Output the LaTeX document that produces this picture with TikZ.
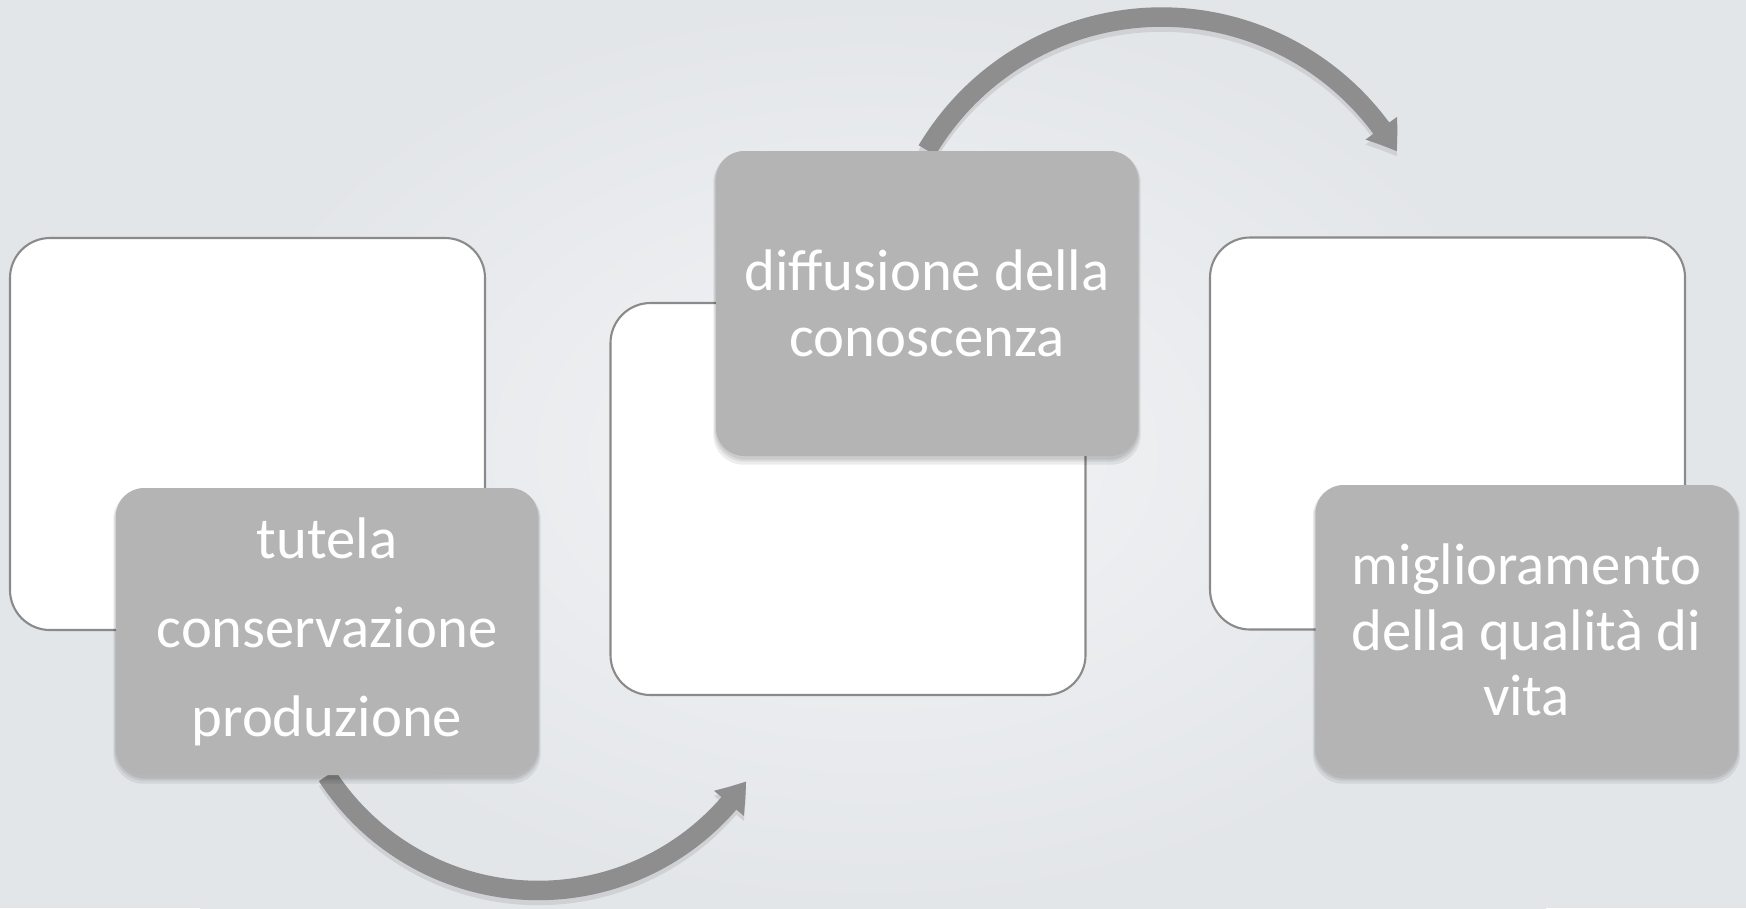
\documentclass[tikz,border=0pt]{standalone}
\usepackage{fontspec}
\setmainfont{Carlito}
\usetikzlibrary{arrows.meta,bending}
\definecolor{bgin}{HTML}{F2F3F5}
\definecolor{bgout}{HTML}{E3E6E9}
\definecolor{boxgray}{HTML}{B4B4B4}
\definecolor{arrowgray}{HTML}{8E8E8E}
\definecolor{arrowshadow}{HTML}{CFD1D4}
\definecolor{edgegray}{HTML}{8A8A8A}
\pgfdeclarelayer{bg}
\pgfdeclarelayer{arrshad}
\pgfdeclarelayer{arr}
\pgfdeclarelayer{whites}
\pgfdeclarelayer{shad}
\pgfsetlayers{bg,arrshad,arr,whites,shad,main}
\begin{document}
\begin{tikzpicture}[x=0.1mm,y=-0.1mm,
  whitebox/.style={draw=edgegray, line width=0.6pt, fill=white, rounded corners=4mm,
    minimum width=47.5mm, minimum height=39.2mm, inner sep=0pt},
  graybox/.style={fill=boxgray, rounded corners=2.8mm, inner sep=0pt, text=white, align=center,
    minimum width=42.2mm,
    font=\fontsize{16.7pt}{18.6pt}\selectfont},
  shadowfill/.style={fill=black, opacity=0.07, rounded corners=3mm},
  flowtip/.style={-{Triangle[bend,length=2.8mm,width=3.7mm]}},
  flow/.style={draw=arrowgray, line width=1.95mm, flowtip},
  flowshadow/.style={draw=arrowshadow, line width=1.95mm, flowtip}
]
\begin{pgfonlayer}{bg}
\fill[bgout] (0,0) rectangle (1746,908);
\shade[inner color=bgin, outer color=bgout] (200,0) rectangle (1546,908);
\end{pgfonlayer}
\useasboundingbox (0,0) rectangle (1746,908);

\begin{pgfonlayer}{whites}
\node[whitebox] (w1) at (247.5,434) {};
\node[whitebox] (w2) at (848,499) {};
\node[whitebox] (w3) at (1447.5,433.5) {};
\end{pgfonlayer}

\node[graybox, minimum height=28.7mm, font=\fontsize{16.7pt}{25.3pt}\selectfont] (g1) at (327,631.5)
  {tutela\\conservazione\\produzione};
\node[graybox, minimum height=30.5mm] (g2) at (927,303.5) {diffusione della\\conoscenza};
\node[graybox, minimum height=29mm] (g3) at (1526.5,630) {miglioramento\\della qualità di\\vita};

\begin{pgfonlayer}{shad}
\foreach \g in {g1,g2,g3}{
  \fill[shadowfill] ([shift={(-2,2)}]\g.north west) rectangle ([shift={(2,8)}]\g.south east);
  \fill[shadowfill] ([shift={(-1,2)}]\g.north west) rectangle ([shift={(1,5)}]\g.south east);
  \fill[shadowfill] ([shift={(0,2)}]\g.north west) rectangle ([shift={(0,3)}]\g.south east);
}
\end{pgfonlayer}

\begin{pgfonlayer}{arrshad}
\draw[flowshadow] ([yshift=-0.5mm]g1.south) arc[start angle=147, end angle=34.5, radius=252];
\draw[flowshadow] ([yshift=-0.5mm]g2.north) arc[start angle=-149.2, end angle=-30.5, radius=273];
\end{pgfonlayer}
\begin{pgfonlayer}{arr}
\draw[flow] (g1.south) arc[start angle=147, end angle=34.5, radius=252];
\draw[flow] (g2.north) arc[start angle=-149.2, end angle=-30.5, radius=273];
\end{pgfonlayer}
\end{tikzpicture}
\end{document}
